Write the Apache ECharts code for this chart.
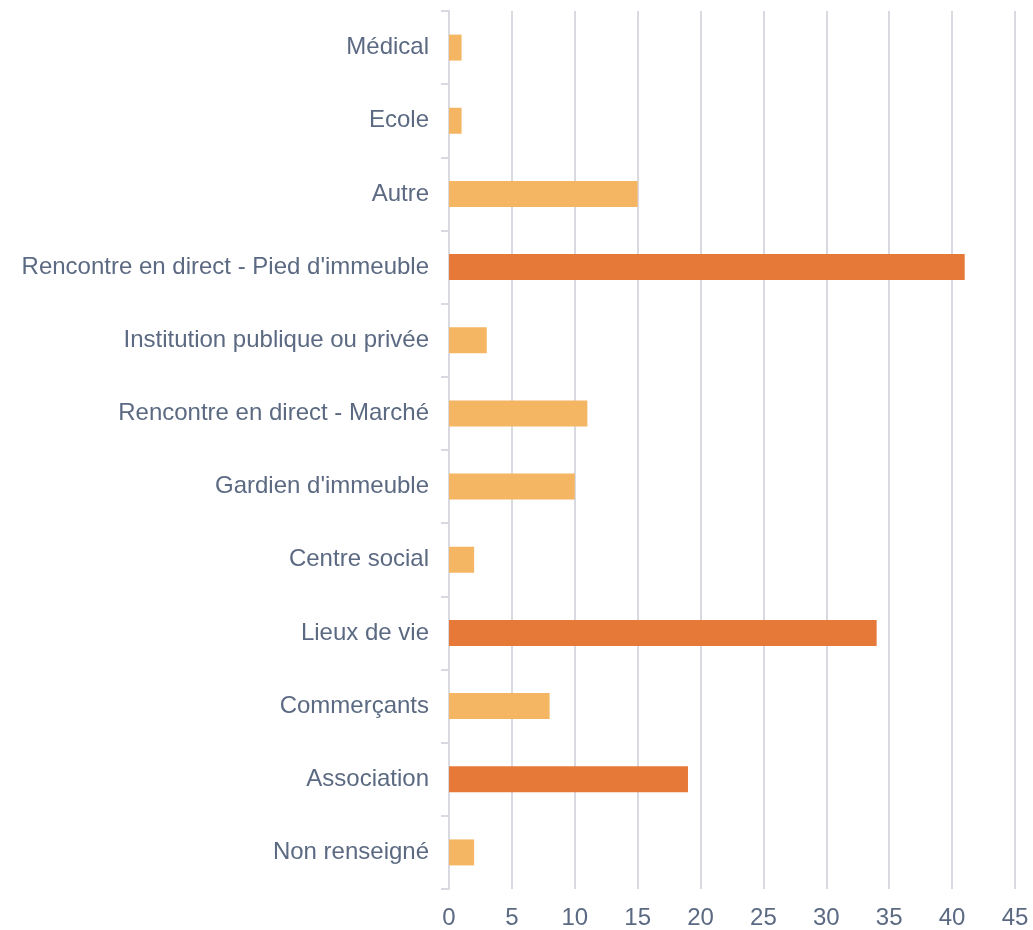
<!DOCTYPE html>
<html>
<head>
<meta charset="utf-8">
<script src="https://cdn.jsdelivr.net/npm/echarts@6/dist/echarts.min.js"></script>
<style>html,body{margin:0;padding:0;background:#fff}#c{width:1033px;height:930px}</style>
</head>
<body>
<div id="c"></div>
<script>
// Categories, bottom to top
const categories = ["Non renseigné","Association","Commerçants","Lieux de vie","Centre social","Gardien d'immeuble","Rencontre en direct - Marché","Institution publique ou privée","Rencontre en direct - Pied d'immeuble","Autre","Ecole","Médical"];
const values = [2,19,8,34,2,10,11,3,41,15,1,1];
const highlighted = [false,true,false,true,false,false,false,false,true,false,false,false];
const xTicks = [0,5,10,15,20,25,30,35,40,45];

const LIGHT = '#F4B663';
const DARK = '#E67838';
const TEXT = '#5B6A82';
const GRID = '#D9DAE1';
const FONT = "'Liberation Sans', Arial, sans-serif";

const chart = echarts.init(document.getElementById('c'));
chart.setOption({
  animation: false,
  grid: {left: 449, right: 18, top: 11, bottom: 40, containLabel: false},
  xAxis: {
    type: 'value', min: xTicks[0], max: xTicks[xTicks.length-1], interval: 5,
    axisLine: {show: false}, axisTick: {show: false},
    splitLine: {show: true, lineStyle: {color: GRID, width: 2}},
    axisLabel: {color: TEXT, fontSize: 24, fontFamily: FONT, margin: 17,
      showMinLabel: true, showMaxLabel: true}
  },
  yAxis: {
    type: 'category', data: categories,
    axisLine: {show: true, lineStyle: {color: GRID, width: 2}},
    axisTick: {show: true, length: 8, lineStyle: {color: GRID, width: 2}},
    axisLabel: {color: TEXT, fontSize: 24, fontFamily: FONT, margin: 20}
  },
  series: [{
    type: 'bar',
    barWidth: 26,
    data: values.map((v, i) => ({value: v, itemStyle: {color: highlighted[i] ? DARK : LIGHT}}))
  }]
});
</script>
</body>
</html>
